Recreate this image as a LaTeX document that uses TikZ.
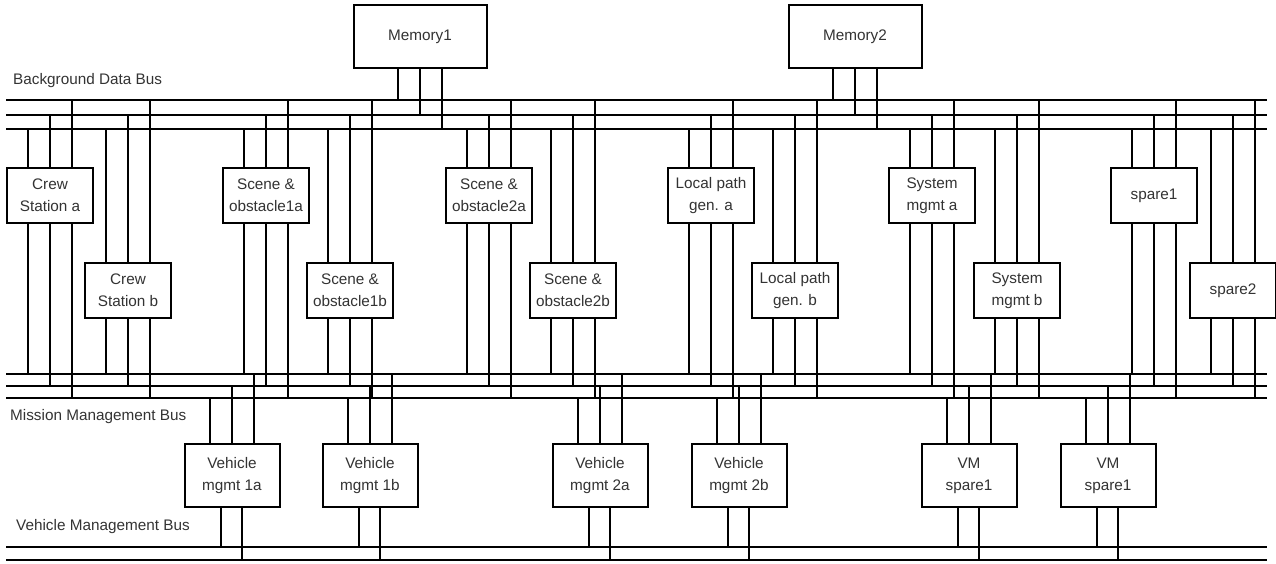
\documentclass[tikz,border=0pt]{standalone}
\usepackage{fontspec}
\setmainfont{Liberation Sans}
\begin{document}
\begin{tikzpicture}[x=1pt,y=-1pt,
  lw/.style={line width=2pt},
  bus/.style={lw},
  link/.style={lw},
  txt/.style={text=black!80, font=\fontsize{15.3}{22}\selectfont},
  box/.style={draw, lw, fill=white, txt, align=center, inner sep=0pt},
  sbox/.style={box, minimum width=86pt, minimum height=55pt},
  vbox/.style={box, minimum width=95pt, minimum height=63pt},
  mbox/.style={box, minimum width=133pt, minimum height=63pt},
  lbl/.style={txt, inner sep=0pt, anchor=west}]
\useasboundingbox (0,0) rectangle (1276,563);
% bus coordinates
\coordinate (BD1) at (0,100);
\coordinate (BD2) at (0,115);
\coordinate (BD3) at (0,129);
\coordinate (MM1) at (0,374);
\coordinate (MM2) at (0,386);
\coordinate (MM3) at (0,398);
\coordinate (VB1) at (0,547);
\coordinate (VB2) at (0,560);
% buses
\foreach \b in {BD1,BD2,BD3,MM1,MM2,MM3,VB1,VB2}{
  \draw[bus] ([xshift=6pt]\b) -- ([xshift=1267pt]\b);
}
% labels
\node[lbl] (lbd) at (13,81) {Background Data Bus};
\node[lbl] (lmm) at (10,417) {Mission Management Bus};
\node[lbl] (lvb) at (16,527) {Vehicle Management Bus};
% memories
\foreach \n/\x/\t in {mem1/420/Memory1, mem2/855/Memory2}{
  \node[mbox] (\n) at (\x,36.5) {\t};
  \path (\n.south) ++(-22,0) coordinate (\n-s1) ++(22,0) coordinate (\n-s2) ++(22,0) coordinate (\n-s3);
  \draw[link] (\n-s1) -- (\n-s1 |- BD1);
  \draw[link] (\n-s2) -- (\n-s2 |- BD2);
  \draw[link] (\n-s3) -- (\n-s3 |- BD3);
}
% processing boxes
\foreach \n/\x/\y/\t in {
  csa/50/195.5/{Crew\\Station a},
  csb/128/290.5/{Crew\\Station b},
  soa/266/195.5/{Scene \&\\obstacle1a},
  sob/350/290.5/{Scene \&\\obstacle1b},
  sta/489/195.5/{Scene \&\\obstacle2a},
  stb/573/290.5/{Scene \&\\obstacle2b},
  lpa/711/195.5/{Local path\\gen. a},
  lpb/795/290.5/{Local path\\gen. b},
  sma/932/195.5/{System\\mgmt a},
  smb/1017/290.5/{System\\mgmt b},
  spa/1154/195.5/{spare1},
  spb/1233/290.5/{spare2}}{
  \node[sbox] (\n) at (\x,\y) {\t};
  \path (\n.north) ++(-22,0) coordinate (\n-t1) ++(22,0) coordinate (\n-t2) ++(22,0) coordinate (\n-t3);
  \path (\n.south) ++(-22,0) coordinate (\n-s1) ++(22,0) coordinate (\n-s2) ++(22,0) coordinate (\n-s3);
  \draw[link] (\n-t1) -- (\n-t1 |- BD3);
  \draw[link] (\n-t2) -- (\n-t2 |- BD2);
  \draw[link] (\n-t3) -- (\n-t3 |- BD1);
  \draw[link] (\n-s1) -- (\n-s1 |- MM1);
  \draw[link] (\n-s2) -- (\n-s2 |- MM2);
  \draw[link] (\n-s3) -- (\n-s3 |- MM3);
}
% vehicle boxes
\foreach \n/\x/\t in {
  v1a/232/{Vehicle\\mgmt 1a},
  v1b/370/{Vehicle\\mgmt 1b},
  v2a/600/{Vehicle\\mgmt 2a},
  v2b/739/{Vehicle\\mgmt 2b},
  vs1/969/{VM\\spare1},
  vs2/1108/{VM\\spare1}}{
  \node[vbox] (\n) at (\x,475.5) {\t};
  \path (\n.north) ++(-22,0) coordinate (\n-t1) ++(22,0) coordinate (\n-t2) ++(22,0) coordinate (\n-t3);
  \path (\n.south) ++(-11,0) coordinate (\n-s1) ++(21,0) coordinate (\n-s2);
  \draw[link] (\n-t1) -- (\n-t1 |- MM3);
  \draw[link] (\n-t2) -- (\n-t2 |- MM2);
  \draw[link] (\n-t3) -- (\n-t3 |- MM1);
  \draw[link] (\n-s1) -- (\n-s1 |- VB1);
  \draw[link] (\n-s2) -- (\n-s2 |- VB2);
}
\end{tikzpicture}
\end{document}
